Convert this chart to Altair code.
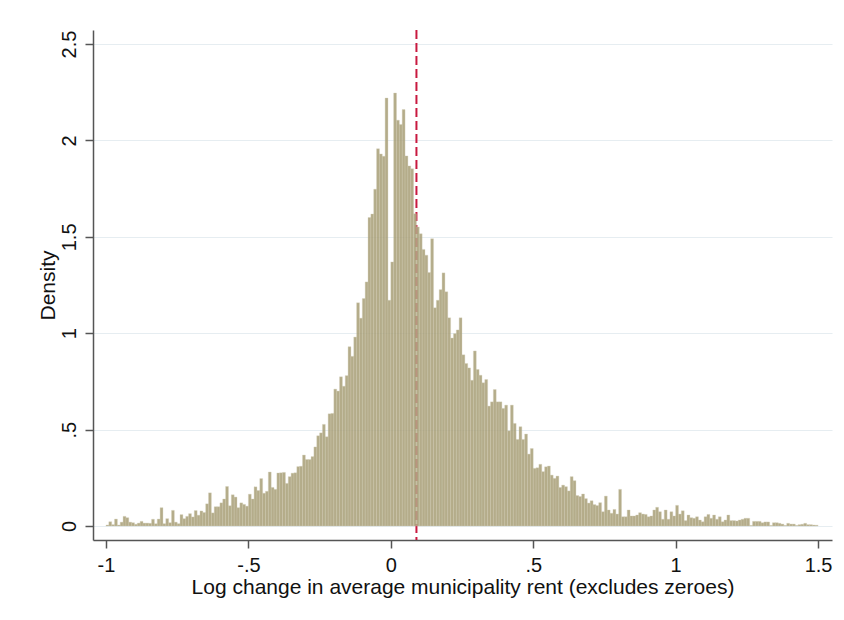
import altair as alt
import pandas as pd

# Histogram: bin width 0.01, first bin starts at -1.00 (250 bins up to 1.50)
BIN_START = -1.0
BIN_WIDTH = 0.01
DENSITY = [
    0.005, 0.022, 0.007, 0.036, 0.005, 0.020, 0.050, 0.043, 0.020, 0.017,
    0.009, 0.015, 0.024, 0.015, 0.015, 0.014, 0.035, 0.012, 0.036, 0.095,
    0.012, 0.038, 0.017, 0.081, 0.020, 0.012, 0.059, 0.038, 0.050, 0.064,
    0.047, 0.080, 0.056, 0.078, 0.070, 0.115, 0.172, 0.068, 0.100, 0.100,
    0.120, 0.140, 0.205, 0.105, 0.162, 0.150, 0.095, 0.120, 0.112, 0.103,
    0.165, 0.140, 0.203, 0.184, 0.246, 0.170, 0.180, 0.280, 0.200, 0.190,
    0.275, 0.276, 0.278, 0.221, 0.256, 0.274, 0.276, 0.308, 0.310, 0.368,
    0.345, 0.345, 0.360, 0.410, 0.468, 0.483, 0.527, 0.463, 0.582, 0.584,
    0.710, 0.700, 0.774, 0.725, 0.780, 0.930, 0.880, 0.980, 1.158, 1.078,
    1.180, 1.266, 1.600, 1.618, 1.747, 1.957, 1.930, 1.918, 2.220, 1.171,
    1.370, 2.246, 2.105, 2.083, 2.160, 1.920, 1.868, 1.853, 1.620, 1.551,
    1.516, 1.435, 1.405, 1.315, 1.490, 1.132, 1.171, 1.226, 1.313, 1.215,
    1.080, 0.975, 0.998, 1.017, 1.080, 0.888, 0.843, 0.820, 0.756, 0.908,
    0.812, 0.782, 0.743, 0.760, 0.622, 0.644, 0.708, 0.644, 0.644, 0.610,
    0.627, 0.494, 0.627, 0.532, 0.449, 0.515, 0.449, 0.477, 0.373, 0.402,
    0.299, 0.302, 0.320, 0.282, 0.307, 0.311, 0.264, 0.247, 0.259, 0.200,
    0.212, 0.204, 0.182, 0.256, 0.235, 0.158, 0.153, 0.166, 0.142, 0.119,
    0.131, 0.111, 0.106, 0.121, 0.074, 0.155, 0.083, 0.066, 0.086, 0.062,
    0.190, 0.048, 0.048, 0.083, 0.052, 0.052, 0.057, 0.069, 0.062, 0.060,
    0.048, 0.052, 0.083, 0.097, 0.074, 0.035, 0.083, 0.035, 0.074, 0.052,
    0.107, 0.062, 0.079, 0.028, 0.057, 0.043, 0.040, 0.048, 0.031, 0.022,
    0.048, 0.060, 0.040, 0.057, 0.035, 0.048, 0.022, 0.031, 0.057, 0.028,
    0.028, 0.026, 0.031, 0.035, 0.040, 0.040, 0.003, 0.024, 0.024, 0.024,
    0.017, 0.021, 0.021, 0.003, 0.017, 0.017, 0.014, 0.010, 0.003, 0.014,
    0.010, 0.010, 0.003, 0.007, 0.009, 0.014, 0.007, 0.007, 0.005, 0.004,
]
MEAN_LINE = [0.09]

X_TICKS = [-1, -0.5, 0, 0.5, 1, 1.5]
X_LABELS = ["-1", "-.5", "0", ".5", "1", "1.5"]
Y_TICKS = [0, 0.5, 1, 1.5, 2, 2.5]
Y_LABELS = ["0", ".5", "1", "1.5", "2", "2.5"]

X_TITLE = "Log change in average municipality rent (excludes zeroes)"
Y_TITLE = "Density"

FONT = "Liberation Sans"


def label_expr(ticks, labels):
    expr = "''"
    for t, l in reversed(list(zip(ticks, labels))):
        expr = f"abs(datum.value - ({t})) < 1e-9 ? '{l}' : ({expr})"
    return expr


n = len(DENSITY)
lefts = [round(BIN_START + i * BIN_WIDTH, 4) for i in range(n)]
rights = [round(BIN_START + (i + 1) * BIN_WIDTH, 4) for i in range(n)]
df = pd.DataFrame({"left": lefts, "right": rights, "density": DENSITY})
line_df = pd.DataFrame({"v": MEAN_LINE})

X_DOMAIN = [-1.0456, 1.549]
Y_DOMAIN = [-0.0726, 2.573]

x_scale = alt.Scale(domain=X_DOMAIN, nice=False, zero=False)
y_scale = alt.Scale(domain=Y_DOMAIN, nice=False, zero=False)

x_axis = alt.Axis(
    values=X_TICKS,
    labelExpr=label_expr(X_TICKS, X_LABELS),
    title=X_TITLE,
    grid=False,
    tickSize=8,
    labelPadding=7,
    labelFontSize=20,
    titleFontSize=21,
    titleFontWeight="normal",
    titleBaseline="alphabetic",
    titleY=53,
)

y_axis = alt.Axis(
    values=Y_TICKS,
    labelExpr=label_expr(Y_TICKS, Y_LABELS),
    title=Y_TITLE,
    grid=True,
    tickSize=8,
    labelAngle=270,
    labelAlign="center",
    labelBaseline="alphabetic",
    labelPadding=10,
    labelFontSize=20,
    titleFontSize=21,
    titleFontWeight="normal",
    titleAngle=270,
    titleAlign="center",
    titleBaseline="alphabetic",
    titleX=-39,
)

bars = (
    alt.Chart(df)
    .mark_bar(color="#a89f77", opacity=0.86, stroke="#cdc7ad", strokeWidth=0.35)
    .encode(
        x=alt.X("left:Q", scale=x_scale, axis=x_axis),
        x2="right:Q",
        y=alt.Y("density:Q", scale=y_scale, axis=y_axis),
        y2=alt.datum(0),
    )
)

rule = (
    alt.Chart(line_df)
    .mark_rule(color="#c8193f", strokeWidth=2, strokeDash=[9, 4])
    .encode(x=alt.X("v:Q", scale=x_scale))
)

chart = (
    alt.layer(rule, bars)
    .properties(
        width=739,
        height=510,
        autosize=alt.AutoSizeParams(type="none"),
        padding={"left": 85, "top": 22, "right": 4, "bottom": 72},
        background="white",
    )
    .configure_view(stroke=None)
    .configure_axis(
        labelFont=FONT,
        titleFont=FONT,
        labelColor="#111111",
        titleColor="#111111",
        domainColor="#555555",
        domainWidth=1.5,
        tickColor="#555555",
        tickWidth=1.5,
        gridColor="#e6edf1",
        gridWidth=1.2,
    )
)

chart.save("out.html", embed_options={"renderer": "svg", "actions": False})
